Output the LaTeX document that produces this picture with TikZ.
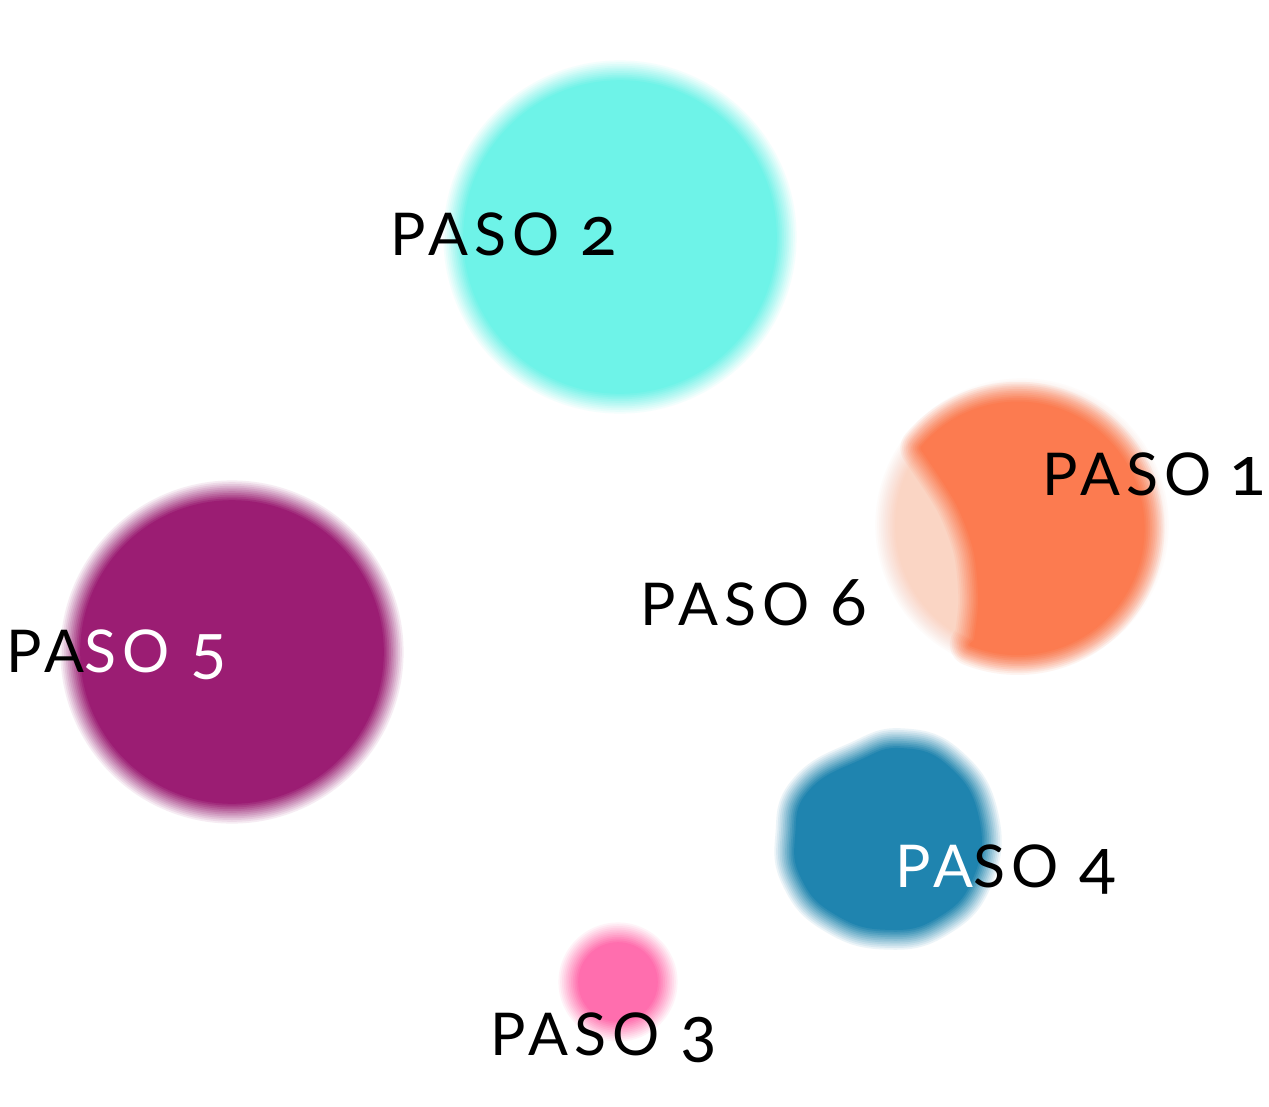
\documentclass[tikz,border=0pt]{standalone}
\usepackage{fontspec}
\setmainfont{Lato}[LetterSpace=10, Numbers=OldStyle]
\definecolor{cyanc}{RGB}{110,243,232}
\definecolor{purplec}{RGB}{155,29,115}
\definecolor{orangec}{RGB}{252,123,80}
\definecolor{peachc}{RGB}{250,213,196}
\definecolor{bluec}{RGB}{31,132,175}
\definecolor{pinkc}{RGB}{255,110,174}
\newcommand\blurshape[2]{%
  \foreach \j in {12,...,1}{%
    \pgfmathsetmacro\op{1/\j}%
    \draw[#1, draw opacity=\op, line width=\j*3.6pt, line join=round] #2;
  }%
  \fill[#1] #2;
}
\newcommand\dg[1]{{\fontsize{68}{68}\selectfont #1}}
\begin{document}
\begin{tikzpicture}[x=1pt,y=-1pt,
  lbl/.style={anchor=base west, inner sep=0pt, font=\fontsize{59}{59}\selectfont}]
\useasboundingbox[fill=white] (0,0) rectangle (1269,1106);
% cyan disc
\blurshape{cyanc}{(620,237) circle[radius=155]}
% purple disc
\blurshape{purplec}{(232,652) circle[radius=150]}
% peach disc with orange part
\blurshape{peachc}{(1022,525) circle[radius=125]}
\blurshape{orangec}{(922,448) arc[start angle=-140, end angle=111.7, radius=125] -- plot[smooth] coordinates {(975.6,641) (980,600) (975,550) (957,502) (922,448)} -- cycle}
% blue blob
\blurshape{bluec}{plot[smooth cycle, tension=0.8] coordinates {(797,835) (810,792) (860,762) (903,750) (948,768) (977,817) (972,876) (937,916) (887,928) (836,913) (803,878)}}
% pink disc
\blurshape{pinkc}{(618,982) circle[radius=38]}
% labels
\node[lbl] (p2) at (390,255) {PASO \dg{2}};
\node[lbl] (p1) at (1042,495) {PASO\hspace{-3pt} \dg{1}};
\node[lbl] (p6) at (640,625) {PASO \dg{6}};
\node[lbl] (p5) at (6,672) {PA\textcolor{white}{SO \dg{5}}};
\node[lbl] (p4) at (895,887) {\textcolor{white}{PA}SO \dg{4}};
\node[lbl] (p3) at (490,1055) {PASO \dg{3}};
\end{tikzpicture}
\end{document}
